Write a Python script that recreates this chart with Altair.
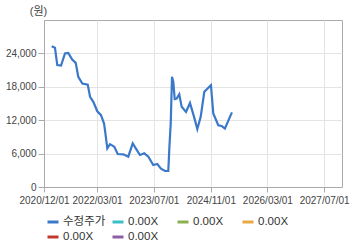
import altair as alt
import pandas as pd

dates = [
    "2021-02-05", "2021-03-05", "2021-03-25", "2021-04-26", "2021-05-30", "2021-06-27",
    "2021-07-31", "2021-08-30", "2021-09-21", "2021-10-26", "2021-12-11", "2021-12-31",
    "2022-01-28", "2022-03-03", "2022-04-04", "2022-04-30", "2022-05-08", "2022-05-28",
    "2022-06-20", "2022-07-27", "2022-08-25", "2022-10-12", "2022-11-24", "2023-01-01",
    "2023-01-27", "2023-03-04", "2023-04-10", "2023-05-15", "2023-06-26", "2023-07-31",
    "2023-08-31", "2023-10-05", "2023-11-02", "2023-11-11", "2023-11-23", "2023-12-04",
    "2023-12-15", "2023-12-27", "2024-01-13", "2024-02-04", "2024-02-25", "2024-04-02",
    "2024-05-06", "2024-06-10", "2024-07-08", "2024-08-06", "2024-09-06", "2024-11-02",
    "2024-11-22", "2025-01-04", "2025-02-02", "2025-03-02", "2025-04-14", "2025-05-01",
]
prices = [
    25300, 25000, 21900, 21800, 24000, 24100,
    22900, 22300, 19800, 18600, 18400, 16200,
    15300, 13600, 12900, 11400, 10200, 6950,
    7700, 7240, 5930, 5870, 5440, 7850,
    6950, 5750, 6050, 5440, 3950, 4130,
    3300, 2870, 2870, 6950, 11440, 19800,
    18900, 15800, 15900, 16650, 14400, 13500,
    15100, 12600, 10400, 12600, 17100, 18300,
    13200, 11100, 10950, 10500, 12600, 13400,
]

# legend entries (name, colour); order arranged so the 4-column grid reads
# 수정주가, cyan, green, orange / red, purple
series_names = ["수정주가", "s3", "s1", "s4", "s2", "s5"]
series_colors = ["#3a78c9", "#e8a940", "#3bbfc6", "#c0392f", "#8cb050", "#8e5ea3"]

y_ticks = [0, 6000, 12000, 18000, 24000]
x_ticks = [(2020, 12), (2022, 3), (2023, 7), (2024, 11), (2026, 3), (2027, 7)]

df = pd.DataFrame({
    "date": [d + "T00:00:00" for d in dates],
    "price": prices,
    "series": ["수정주가"] * len(dates),
})

font = "Liberation Sans, Noto Sans CJK KR"

label_expr = "datum.label == '수정주가' ? '수정주가' : '0.00X'"

chart = alt.Chart(df).mark_line(strokeWidth=2.2, interpolate="linear").encode(
    x=alt.X(
        "date:T",
        scale=alt.Scale(domain=[alt.DateTime(year=2020, month=12, date=1),
                                alt.DateTime(year=2027, month=12, date=1)]),
        axis=alt.Axis(
            values=[alt.DateTime(year=y, month=m, date=1) for y, m in x_ticks],
            format="%Y/%m/%d", title=None, labelOverlap=False,
            tickSize=5, labelPadding=3, labelFlush=False,
        ),
    ),
    y=alt.Y(
        "price:Q",
        scale=alt.Scale(domain=[0, 30000], nice=False),
        axis=alt.Axis(
            values=y_ticks, format=",d", title="(원)", titleAngle=0,
            titleX=-6, titleY=-9, titleAlign="center", titleBaseline="middle",
            tickSize=6, labelPadding=2,
        ),
    ),
    color=alt.Color(
        "series:N",
        scale=alt.Scale(domain=series_names, range=series_colors),
        legend=alt.Legend(
            title=None, orient="none", legendX=2, legendY=195, columns=4,
            gridAlign="all", columnPadding=0, rowPadding=2,
            symbolType="stroke", symbolSize=121, symbolStrokeWidth=3,
            labelExpr=label_expr, labelFontSize=11.5, labelOffset=3,
            labelColor="#333333", labelFont=font, padding=0,
        ),
    ),
).properties(
    width=298, height=167,
    autosize=alt.AutoSizeParams(type="none"),
    padding={"left": 44, "top": 20, "right": 18, "bottom": 61},
).configure_view(
    stroke="#aaaaaa", strokeWidth=1,
).configure_axis(
    gridColor="#e4e4e4", domainColor="#aaaaaa", tickColor="#aaaaaa",
    labelColor="#444444", labelFont=font, labelFontSize=10,
    titleFont=font, titleFontSize=11, titleColor="#444444", titleFontWeight="normal",
)

chart.save("out.html", embed_options={"renderer": "svg", "actions": False})
